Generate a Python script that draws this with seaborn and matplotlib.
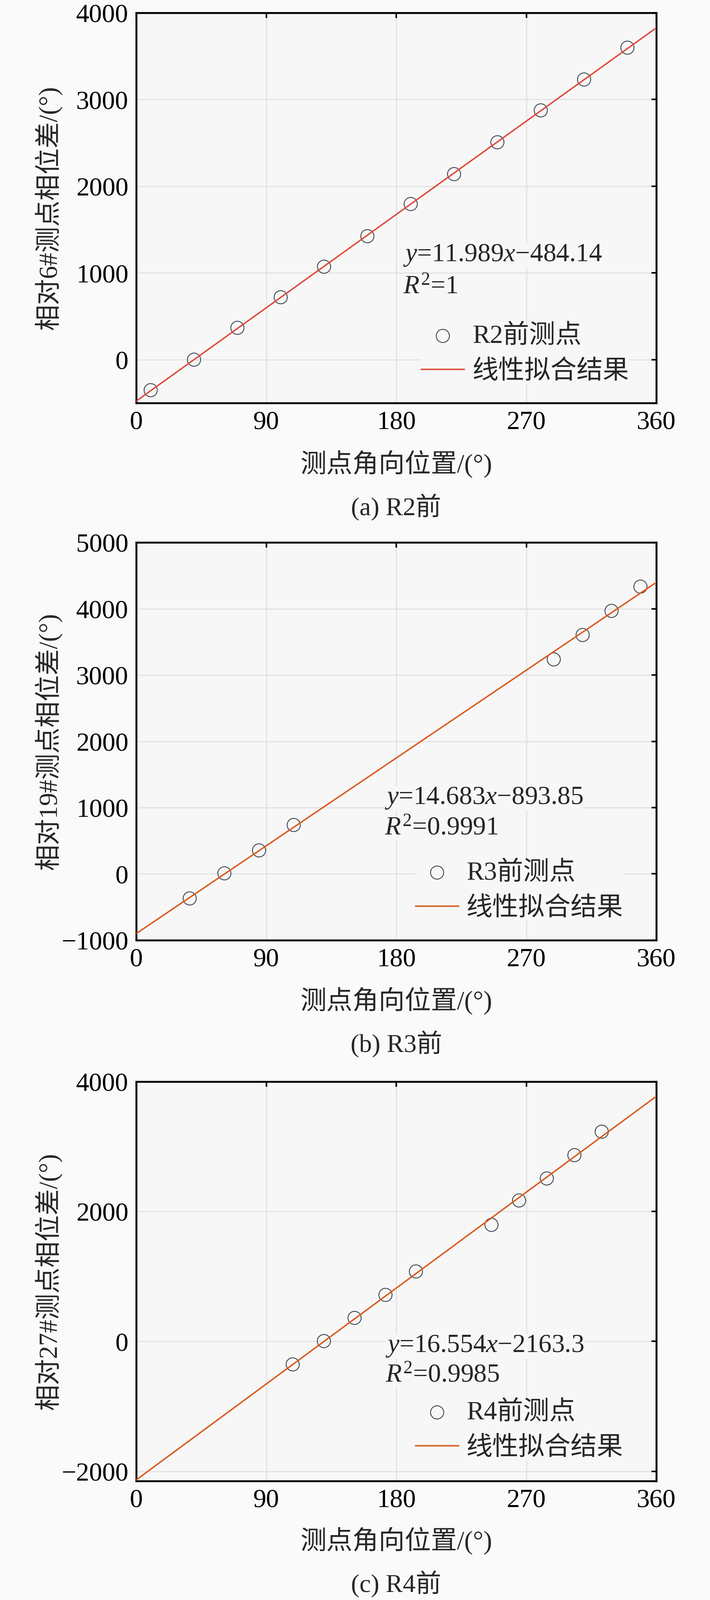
import numpy as np
import pandas as pd
import seaborn as sns
import matplotlib.pyplot as plt

# Data
x_r2 = [10, 40, 70, 100, 130, 160, 190, 220, 250, 280, 310, 340]
y_r2 = [-352, 0, 367, 720, 1072, 1424, 1795, 2140, 2507, 2875, 3231, 3598]

x_r3 = [37, 61, 85, 109, 289, 309, 329, 349]
y_r3 = [-370, 9, 355, 738, 3236, 3604, 3967, 4333]

x_r4 = [108.3, 129.9, 151.1, 172.5, 193.6, 245.9, 265.0, 284.2, 303.3, 322.2]
y_r4 = [-354, 5, 362, 716, 1077, 1795, 2170, 2509, 2868, 3229]

point_labels = ["R2前测点", "R3前测点", "R4前测点"]
fit_label = "线性拟合结果"
eq_texts = [r"$y$=11.989$x$−484.14", r"$y$=14.683$x$−893.85", r"$y$=16.554$x$−2163.3"]
r2_texts = [r"$R^2$=1", r"$R^2$=0.9991", r"$R^2$=0.9985"]
y_labels = ["相对6#测点相位差/(°)", "相对19#测点相位差/(°)", "相对27#测点相位差/(°)"]
x_label = "测点角向位置/(°)"
captions = ["(a) R2前", "(b) R3前", "(c) R4前"]
x_ticks = [0, 90, 180, 270, 360]
y_ticks = [[0, 1000, 2000, 3000, 4000],
           [-1000, 0, 1000, 2000, 3000, 4000, 5000],
           [-2000, 0, 2000, 4000]]
y_lims = [(-500, 4000), (-1000, 5000), (-2150, 4000)]

sns.set_theme(style="whitegrid")
plt.rcParams['font.family'] = ['Liberation Serif', 'Noto Sans CJK SC']
plt.rcParams['mathtext.fontset'] = 'custom'
plt.rcParams['mathtext.rm'] = 'Liberation Serif'
plt.rcParams['mathtext.it'] = 'Liberation Serif:italic'
plt.rcParams['axes.unicode_minus'] = True

FS = 47
bg = '#F7F7F7'
pt_color = '#3F4A52'
line_colors = ['#E04A3A', '#DA5A1E', '#DA5A1E']

fig = plt.figure(figsize=(17.72, 39.94), dpi=100, facecolor='#FAFAFA')
boxes = [[0.1919, 0.74812, 0.7325, 0.24387],
         [0.1919, 0.41237, 0.7325, 0.24862],
         [0.1919, 0.07436, 0.7325, 0.24962]]
eq_pos = [(0.513, 0.378, 0.297), (0.478, 0.357, 0.282), (0.479, 0.338, 0.265)]
leg_pos = [(0.548, 0.125), (0.537, 0.124), (0.537, 0.126)]
xlab_y = [-0.156, -0.152, -0.150]
cap_y = [-0.268, -0.262, -0.259]

datasets = [(x_r2, y_r2), (x_r3, y_r3), (x_r4, y_r4)]

for i, (xs, ys) in enumerate(datasets):
    ax = fig.add_axes(boxes[i])
    ax.set_facecolor(bg)
    df = pd.DataFrame({'x': xs, 'y': ys})

    ax.set_xlim(0, 360)
    sns.scatterplot(data=df, x='x', y='y', ax=ax, s=560, marker='o',
                    facecolors='none', edgecolor=pt_color, linewidth=1.6,
                    label=point_labels[i], zorder=3)
    # fitted line across the whole axis range
    sns.regplot(data=df, x='x', y='y', ax=ax, scatter=False, ci=None,
                truncate=False, color=line_colors[i], label=fit_label,
                line_kws={'lw': 2.6, 'zorder': 4})

    ax.set_xlim(0, 360)
    ax.set_ylim(*y_lims[i])
    ax.set_xticks(x_ticks)
    ax.set_yticks(y_ticks[i])

    ax.grid(True, color='#E2E2E2', lw=2.0)
    for sp in ax.spines.values():
        sp.set_color('black')
        sp.set_linewidth(3.4)
    ax.tick_params(direction='in', top=True, right=True, length=9, width=2.8,
                   labelsize=FS, colors='black')
    ax.tick_params(axis='x', pad=14)
    ax.tick_params(axis='y', pad=14)

    ax.set_xlabel(x_label, fontsize=FS, va='center')
    ax.xaxis.set_label_coords(0.5, xlab_y[i])
    ax.set_ylabel(y_labels[i], fontsize=FS, va='center')
    ax.yaxis.set_label_coords(-0.169, 0.5)

    ex, ey1, ey2 = eq_pos[i]
    for txt, yy in [(eq_texts[i], ey1), (r2_texts[i], ey2)]:
        ax.text(ex, yy, txt, transform=ax.transAxes, fontsize=FS, ha='left',
                va='center', zorder=5,
                bbox=dict(facecolor=bg, edgecolor='none', pad=0))

    leg = ax.legend(loc='center left', bbox_to_anchor=leg_pos[i], fontsize=FS,
                    frameon=True, fancybox=False, facecolor=bg, edgecolor='none',
                    framealpha=1, borderpad=0, borderaxespad=0,
                    handlelength=1.65, handletextpad=0.3, labelspacing=0.45)
    leg.set_zorder(6)

    ax.text(0.5, cap_y[i], captions[i], transform=ax.transAxes, fontsize=FS - 1,
            ha='center', va='center')

fig.savefig('out.png', dpi=100, facecolor=fig.get_facecolor())
